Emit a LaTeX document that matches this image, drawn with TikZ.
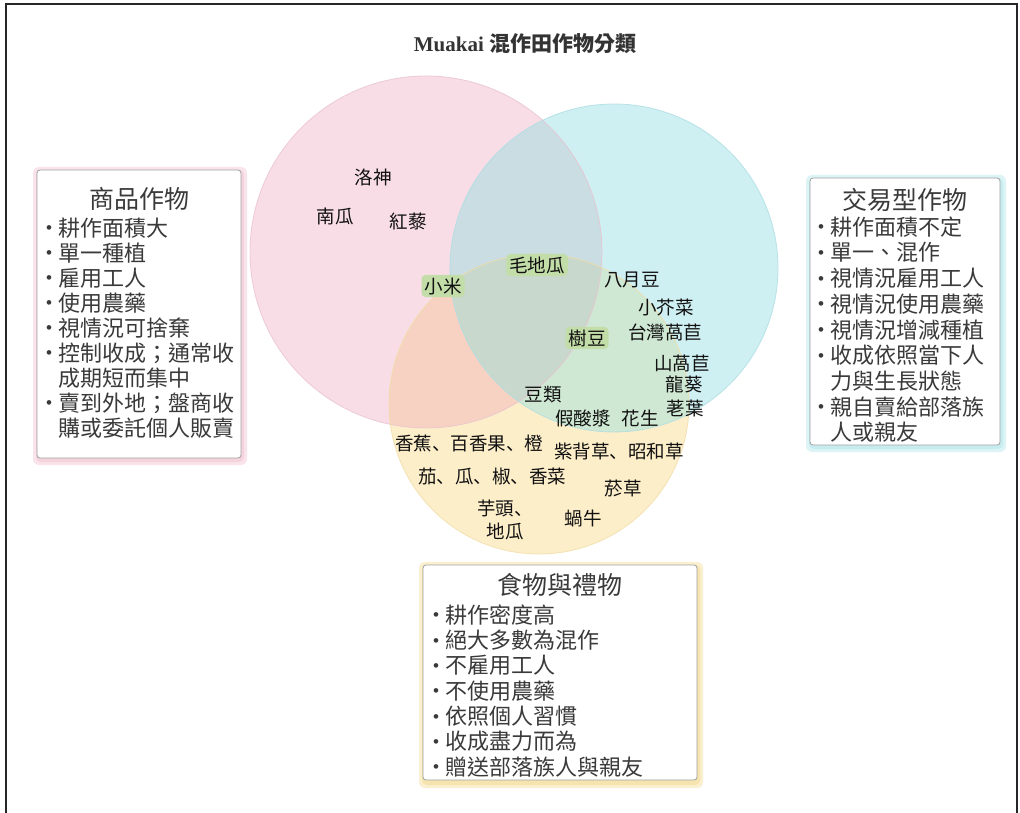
\documentclass[tikz,border=0pt]{standalone}
\usepackage{fontspec}
\setmainfont{Liberation Serif}
\newfontfamily\tcfont{Noto Sans CJK TC}
\newfontfamily\jpfont{Noto Sans CJK JP}
\newfontfamily\bulfont{Liberation Sans}

\definecolor{pinkc}{HTML}{F8DDE6}
\definecolor{cyanc}{HTML}{CFF0F3}
\definecolor{yelc}{HTML}{FDEECA}
\definecolor{pcc}{HTML}{C9DDE3}
\definecolor{pyc}{HTML}{F7D2C2}
\definecolor{cyc}{HTML}{CFE8D3}
\definecolor{allc}{HTML}{C9D8CD}
\definecolor{pinkb}{HTML}{E9C3CF}
\definecolor{cyanb}{HTML}{ACDDE3}
\definecolor{yelb}{HTML}{F1DDA6}
\definecolor{hlc}{HTML}{C3DDA8}
\definecolor{frameg}{HTML}{A0A0A0}
\definecolor{glowP}{HTML}{F5D3DD}
\definecolor{glowC}{HTML}{C6ECF0}
\definecolor{glowY}{HTML}{F6E4AE}
\definecolor{boxtext}{HTML}{3A3A3A}
\definecolor{labtext}{HTML}{111111}

\newcommand\bitem{\makebox[12pt][l]{\bulfont\fontsize{17}{17}\selectfont\raisebox{2.5pt}{•}}}
\newcommand\cont{\hspace*{12pt}}

\tikzset{
  boxframe/.style={draw=frameg, line width=0.8pt, fill=white, rounded corners=3pt, inner sep=0pt},
  boxtxt/.style={font=\tcfont\fontsize{22}{25}\selectfont, text=boxtext, inner sep=0pt, anchor=west},
  boxtitle/.style={font=\tcfont\fontsize{25}{28}\selectfont, text=boxtext, inner sep=0pt},
  lab/.style={font=\jpfont\fontsize{18.5}{23}\selectfont, text=labtext, inner sep=0pt},
  hl/.style={lab, fill=hlc, rounded corners=4pt, inner xsep=3pt, inner ysep=2.5pt},
}

\begin{document}
\begin{tikzpicture}[x=1pt, y=-1pt]
\useasboundingbox (0,0) rectangle (1020,813);
\fill[white] (0,0) rectangle (1020,813);
\draw[line width=2.5pt, black!85] (6,4) rectangle (1017,840);

% title
\node[font=\fontsize{21}{25}\selectfont, text=black!80, inner sep=0pt] (title) at (525,44)
  {\textbf{Muakai} {\tcfont\bfseries 混作田作物分類}};

% Venn circles
\def\PC{(426,252) circle [radius=176pt]}
\def\CC{(614,268) circle [radius=164pt]}
\def\YC{(539,404) circle [radius=150pt]}
\fill[pinkc] \PC;
\fill[cyanc] \CC;
\fill[yelc] \YC;
\begin{scope}\clip \PC; \fill[pcc] \CC; \end{scope}
\begin{scope}\clip \PC; \fill[pyc] \YC; \end{scope}
\begin{scope}\clip \CC; \fill[cyc] \YC; \end{scope}
\begin{scope}\clip \PC; \clip \CC; \fill[allc] \YC; \end{scope}
\draw[pinkb, line width=0.8pt, opacity=0.8] \PC;
\draw[cyanb, line width=0.8pt, opacity=0.8] \CC;
\draw[yelb, line width=0.8pt, opacity=0.8] \YC;

% labels
\node[lab] (luoshen) at (373,177) {洛神};
\node[lab] (nangua) at (335,216) {南瓜};
\node[lab] (hongli) at (408,221) {紅藜};
\node[hl] (xiaomi) at (443,286) {小米};
\node[hl] (maodigua) at (537,265) {毛地瓜};
\node[lab] (bayuedou) at (632,280) {八月豆};
\node[lab] (xiaojiecai) at (666,308) {小芥菜};
\node[lab] (taiwanwoju) at (665,332) {台灣萵苣};
\node[hl] (shudou) at (587,338) {樹豆};
\node[lab] (shanwoju) at (682,363) {山萵苣};
\node[lab] (longkui) at (684,384) {龍葵};
\node[lab] (laoye) at (685,408) {荖葉};
\node[lab] (doulei) at (543,395) {豆類};
\node[lab] (jiasuanjiang) at (583,418) {假酸漿};
\node[lab] (huasheng) at (640,418) {花生};
\node[lab] (xiangjiao) at (469,443) {香蕉、百香果、橙};
\node[lab] (zibeicao) at (619,451) {紫背草、昭和草};
\node[lab] (qie) at (492,477) {茄、瓜、椒、香菜};
\node[lab] (yancao) at (623,488) {菸草};
\node[lab, align=center] (yutou) at (505,520) {芋頭、\\地瓜};
\node[lab] (woniu) at (583,518) {蝸牛};

% left box
\fill[glowP!60, rounded corners=6pt] (33,167) rectangle (247,465);
\fill[glowP, rounded corners=5pt] (36,170) rectangle (244,462);
\node[boxframe, minimum width=204pt, minimum height=288pt] (lbox) at (139,314) {};
\node[boxtitle] (ltitle) at (139,199) {商品作物};
\foreach \t [count=\i] in {{\bitem 耕作面積大},{\bitem 單一種植},{\bitem 雇用工人},{\bitem 使用農藥},{\bitem 視情況可捨棄},{\bitem 控制收成；通常收},{\cont 成期短而集中},{\bitem 賣到外地；盤商收},{\cont 購或委託個人販賣}}
  \node[boxtxt] (l\i) at (46,{228+25*(\i-1)}) {\t};

% right box
\fill[glowC!60, rounded corners=6pt] (806,175) rectangle (1006,452);
\fill[glowC, rounded corners=5pt] (809,178) rectangle (1003,449);
\node[boxframe, minimum width=190pt, minimum height=267pt] (rbox) at (905,311.5) {};
\node[boxtitle] (rtitle) at (905,200) {交易型作物};
\foreach \t [count=\i] in {{\bitem 耕作面積不定},{\bitem 單一、混作},{\bitem 視情況雇用工人},{\bitem 視情況使用農藥},{\bitem 視情況增減種植},{\bitem 收成依照當下人},{\cont 力與生長狀態},{\bitem 親自賣給部落族},{\cont 人或親友}}
  \node[boxtxt] (r\i) at (818,{227+25.7*(\i-1)}) {\t};

% bottom box
\fill[glowY!60, rounded corners=6pt] (419,562) rectangle (703,788);
\fill[glowY, rounded corners=5pt] (422,565) rectangle (700,785);
\node[boxframe, minimum width=274pt, minimum height=215pt] (bbox) at (560,672.5) {};
\node[boxtitle] (btitle) at (560,585) {食物與禮物};
\foreach \t [count=\i] in {{\bitem 耕作密度高},{\bitem 絕大多數為混作},{\bitem 不雇用工人},{\bitem 不使用農藥},{\bitem 依照個人習慣},{\bitem 收成盡力而為},{\bitem 贈送部落族人與親友}}
  \node[boxtxt] (b\i) at (433,{615+25.3*(\i-1)}) {\t};
\end{tikzpicture}
\end{document}
